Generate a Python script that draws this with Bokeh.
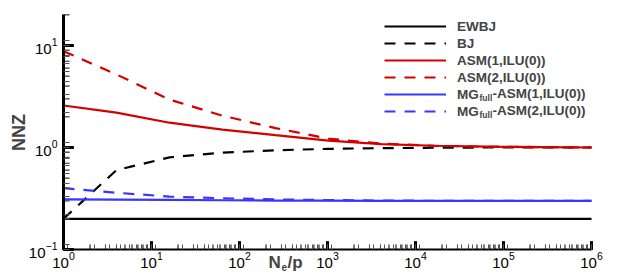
import math
from bokeh.plotting import figure
from bokeh.models import Range1d, Legend, LegendItem, Label, LogTicker
from bokeh.embed import file_html
from bokeh.resources import INLINE

# Data (Ne/p sample points and NNZ values)
ne_p = [1, 4, 16, 64, 256, 1024, 4096, 16384, 65536, 262144, 1000000]
ewbj = [0.2, 0.2, 0.2, 0.2, 0.2, 0.2, 0.2, 0.2, 0.2, 0.2, 0.2]
bj = [0.2, 0.6, 0.8, 0.89, 0.94, 0.97, 0.985, 0.995, 1.0, 1.0, 1.0]
asm1 = [2.58, 2.2, 1.75, 1.5, 1.32, 1.17, 1.08, 1.04, 1.02, 1.01, 1.0]
asm2 = [8.8, 5.2, 2.95, 2.05, 1.55, 1.22, 1.09, 1.04, 1.02, 1.01, 1.0]
mg1 = [0.31, 0.308, 0.306, 0.304, 0.302, 0.301, 0.3, 0.3, 0.3, 0.3, 0.3]
mg2 = [0.40, 0.36, 0.33, 0.318, 0.31, 0.305, 0.302, 0.3, 0.3, 0.3, 0.3]

labels = ["EWBJ", "BJ", "ASM(1,ILU(0))", "ASM(2,ILU(0))", "MG", "MG"]

# axis extents and tick positions
x_decades = [0, 1, 2, 3, 4, 5, 6]
y_decades = [-1, 0, 1]
mantissas = [2, 3, 4, 5, 6, 7, 8, 9]
x_major = [10.0 ** k for k in x_decades]
x_minor = [m * 10.0 ** k for k in x_decades[:-1] for m in mantissas]
y_major = [10.0 ** k for k in y_decades]
y_minor = [m * 10.0 ** k for k in y_decades[:-1] for m in mantissas] + [20.0]

FONT = "Liberation Sans"
RED = "#d40000"
BLUE = "#3636ff"
W, H = 618, 276
PX_X, PX_Y = 88.0, 102.0   # pixels per decade
NAN = float("nan")

# the frame covers the whole canvas; axes are pinned at x=1 and y=0.1
p = figure(width=W, height=H, x_axis_type="log", y_axis_type="log",
           x_range=Range1d(10 ** (-63 / PX_X), 10 ** ((W - 63) / PX_X)),
           y_range=Range1d(10 ** ((147 - H) / PX_Y), 10 ** (147 / PX_Y)),
           output_backend="svg", toolbar_location=None,
           min_border_left=0, min_border_top=0, min_border_right=0,
           min_border_bottom=0)
p.outline_line_color = None
p.xgrid.visible = False
p.ygrid.visible = False

for ax in (p.xaxis[0], p.yaxis[0]):
    ax.ticker = LogTicker(num_minor_ticks=9)
    ax.major_tick_out = 0
    ax.minor_tick_out = 0
    ax.major_tick_line_width = 3
    ax.minor_tick_line_width = 1
    ax.minor_tick_line_color = "#555555"
    ax.major_label_text_font = FONT
    ax.major_label_text_font_size = "15px"
    ax.major_label_text_color = "black"

p.yaxis.fixed_location = 1
p.yaxis.bounds = (0.1, 20)
p.yaxis.axis_line_width = 3
p.yaxis.major_tick_in = 10
p.yaxis.minor_tick_in = 6
p.yaxis.major_label_standoff = 6

p.xaxis.fixed_location = 0.1
p.xaxis.bounds = (1, 1e6)
p.xaxis.axis_line_width = 2
p.xaxis.major_tick_in = 8
p.xaxis.minor_tick_in = 5
p.xaxis.major_label_standoff = 2

r_ewbj = p.line(ne_p, ewbj, line_color="black", line_width=2.2)
r_bj = p.line(ne_p, bj, line_color="black", line_width=2.2, line_dash="11 9")
r_a1 = p.line(ne_p, asm1, line_color=RED, line_width=2.2)
r_a2 = p.line(ne_p, asm2, line_color=RED, line_width=2.2, line_dash="11 9")
r_m1 = p.line(ne_p, mg1, line_color=BLUE, line_width=2.2)
r_m2 = p.line(ne_p, mg2, line_color=BLUE, line_width=2.2, line_dash="11 9")


def tick_path(positions, length_px, vertical):
    """NaN-separated path of inward ticks; length given in pixels."""
    xs, ys = [], []
    for v in positions:
        if vertical:
            xs += [v, v, NAN]
            ys += [0.1, 0.1 * 10 ** (length_px / PX_Y), NAN]
        else:
            xs += [1.0, 10 ** (length_px / PX_X), NAN]
            ys += [v, v, NAN]
    return xs, ys


for pos, ln, vert, col, lw in [(y_major, 10, False, "black", 3),
                               (y_minor, 6, False, "#555555", 1),
                               (x_major, 8, True, "black", 3),
                               (x_minor, 5, True, "#555555", 1)]:
    tx, ty = tick_path(pos, ln, vert)
    p.line(tx, ty, line_color=col, line_width=lw)
    # the same ticks as dash markers centred half a tick inside the axis
    if vert:
        mx, my, ang = pos, [0.1 * 10 ** (ln / 2 / PX_Y)] * len(pos), math.pi / 2
    else:
        mx, my, ang = [10 ** (ln / 2 / PX_X)] * len(pos), pos, 0.0
    p.scatter(mx, my, marker="dash", size=ln, angle=ang, line_color=col, line_width=lw)

renderers = [r_ewbj, r_bj, r_a1, r_a2, r_m1, r_m2]
legend = Legend(items=[LegendItem(label=l, renderers=[r]) for l, r in zip(labels, renderers)],
                location=(384, 157), padding=0, spacing=1, margin=0,
                glyph_width=62, glyph_height=16, label_height=16, label_standoff=11,
                label_text_font=FONT, label_text_font_style="bold",
                label_text_font_size="13.5px", border_line_color=None,
                background_fill_alpha=0)
p.add_layout(legend)

# subscript parts of the MG legend entries
for cy, tail in [(H - 93, "-ASM(1,ILU(0))"), (H - 110, "-ASM(2,ILU(0))")]:
    p.add_layout(Label(x=479, y=cy - 4.5, x_units="screen", y_units="screen", text="full",
                       text_font=FONT, text_font_style="bold", text_font_size="8.5px",
                       text_baseline="middle"))
    p.add_layout(Label(x=492, y=cy, x_units="screen", y_units="screen", text=tail,
                       text_font=FONT, text_font_style="bold", text_font_size="13.5px",
                       text_baseline="middle"))

# y-axis title
p.add_layout(Label(x=18, y=H - 132, x_units="screen", y_units="screen", text="NNZ",
                   angle=math.pi / 2, text_align="center", text_baseline="middle",
                   text_font=FONT, text_font_style="bold", text_font_size="18px"))

# x-axis title N_e/p
p.add_layout(Label(x=268, y=H - 262, x_units="screen", y_units="screen", text="N",
                   text_font=FONT, text_font_style="bold", text_font_size="17px",
                   text_baseline="alphabetic"))
p.add_layout(Label(x=281, y=H - 266, x_units="screen", y_units="screen", text="e",
                   text_font=FONT, text_font_style="bold", text_font_size="10px",
                   text_baseline="alphabetic"))
p.add_layout(Label(x=287, y=H - 262, x_units="screen", y_units="screen", text="/p",
                   text_font=FONT, text_font_style="bold", text_font_size="17px",
                   text_baseline="alphabetic"))

open("out.html", "w").write(file_html(p, INLINE))
